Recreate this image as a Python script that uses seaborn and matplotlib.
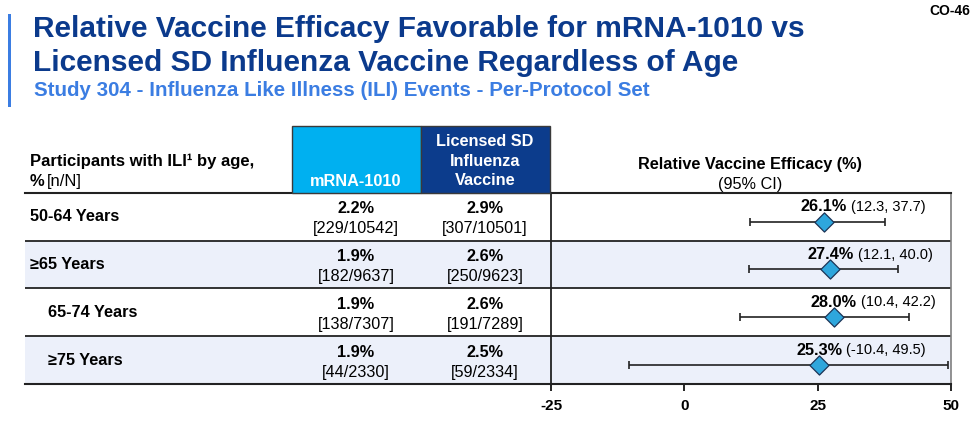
import matplotlib
matplotlib.use("Agg")
import matplotlib.pyplot as plt
import seaborn as sns
import pandas as pd
from matplotlib import font_manager
from matplotlib.patches import Rectangle

# data
age_groups = ["50-64 Years", "≥65 Years", "65-74 Years", "≥75 Years"]
indented = [False, False, True, True]
mrna_pct = ["2.2%", "1.9%", "1.9%", "1.9%"]
mrna_nN = ["[229/10542]", "[182/9637]", "[138/7307]", "[44/2330]"]
lic_pct = ["2.9%", "2.6%", "2.6%", "2.5%"]
lic_nN = ["[307/10501]", "[250/9623]", "[191/7289]", "[59/2334]"]
rve = [26.1, 27.4, 28.0, 25.3]
ci_low = [12.3, 12.1, 10.4, -10.4]
ci_high = [37.7, 40.0, 42.2, 49.5]
x_ticks = [-25, 0, 25, 50]

df = pd.DataFrame({"group": age_groups, "rve": rve, "lo": ci_low, "hi": ci_high})
df["row"] = range(len(df))
df["ypos"] = df["row"] + 0.1

sns.set_theme(style="white")
plt.rcParams["font.family"] = ["Liberation Sans", "DejaVu Sans"]
plt.rcParams["text.color"] = "black"
plt.rcParams["xtick.color"] = "black"
plt.rcParams["axes.labelcolor"] = "black"

names = {f.name for f in font_manager.fontManager.ttflist}
if "Liberation Sans Narrow" in names:
    head_font = ["Liberation Sans Narrow", "Liberation Sans", "DejaVu Sans"]
    title_size, sub_size = 24, 16.5
else:
    head_font = ["Liberation Sans", "DejaVu Sans"]
    title_size, sub_size = 21.5, 14.8

W, H = 976, 448
def fx(x):
    return x / W
def fy(y):
    return 1 - y / H

TITLE = "#0b3a8c"
SUB = "#3b7de2"
CYAN = "#00b0f0"
NAVY = "#0c3c8c"
SHADE = "#ecf0fa"
DIAMOND = "#2ea6dc"

fig = plt.figure(figsize=(9.76, 4.48), dpi=100)

# title block
fig.patches.append(Rectangle((fx(8), fy(107)), 3 / W, (107 - 14) / H,
                             transform=fig.transFigure, color=SUB, lw=0))
fig.text(fx(33), fy(29), "Relative Vaccine Efficacy Favorable for mRNA-1010 vs",
         fontsize=title_size, fontweight="bold", color=TITLE, va="center", family=head_font)
fig.text(fx(33), fy(63), "Licensed SD Influenza Vaccine Regardless of Age",
         fontsize=title_size, fontweight="bold", color=TITLE, va="center", family=head_font)
fig.text(fx(34), fy(91), "Study 304 - Influenza Like Illness (ILI) Events - Per-Protocol Set",
         fontsize=sub_size, fontweight="bold", color=SUB, va="center", family=head_font)
fig.text(fx(970), fy(11), "CO-46", fontsize=10, fontweight="bold", color="black",
         ha="right", va="center", family=head_font)

# table and forest axes share the row scale
top, bot = 193, 384
tab = fig.add_axes([fx(25), fy(bot), (551 - 25) / W, (bot - top) / H])
ax = fig.add_axes([fx(551), fy(bot), (951 - 551) / W, (bot - top) / H], sharey=tab)
ax.set_ylim(len(df) - 0.5, -0.5)
tab.set_xlim(25, 551)

for a in (tab, ax):
    for i in df["row"]:
        if i % 2 == 1:
            a.axhspan(i - 0.5, i + 0.5, color=SHADE, lw=0, zorder=0)
        if i < len(df) - 1:
            a.axhline(i + 0.5, color="#222222", lw=1.3, zorder=1)
    a.grid(False)

tab.set_xticks([])
tab.tick_params(left=False, labelleft=False)
for s in ("left", "right"):
    tab.spines[s].set_visible(False)
for s in ("top", "bottom"):
    tab.spines[s].set_color("#222222")
    tab.spines[s].set_linewidth(1.5)

for i, r in df.iterrows():
    x0 = 48 if indented[i] else 30
    tab.text(x0, i, r["group"], fontsize=11.7, fontweight="bold", va="center", ha="left")
    tab.text(356, i - 0.17, mrna_pct[i], fontsize=11.7, fontweight="bold", ha="center", va="center")
    tab.text(356, i + 0.25, mrna_nN[i], fontsize=11.7, ha="center", va="center")
    tab.text(485, i - 0.17, lic_pct[i], fontsize=11.7, fontweight="bold", ha="center", va="center")
    tab.text(485, i + 0.25, lic_nN[i], fontsize=11.7, ha="center", va="center")

# forest plot
ax.errorbar(df["rve"], df["ypos"], xerr=[df["rve"] - df["lo"], df["hi"] - df["rve"]],
            fmt="none", ecolor="#222222", elinewidth=1.2, capsize=3, capthick=1.2, zorder=2)
sns.scatterplot(data=df, x="rve", y="ypos", marker="D", s=95, color=DIAMOND,
                edgecolor="#1d3557", linewidth=0.9, zorder=3, ax=ax, legend=False)
for i, r in df.iterrows():
    t = ax.text(r["rve"], r["row"] - 0.21, f"{r['rve']:.1f}%", fontsize=11.7,
                fontweight="bold", ha="center", va="center")
    ax.annotate(f"({r['lo']:.1f}, {r['hi']:.1f})", xy=(1, 0.5), xycoords=t,
                xytext=(3, 0), textcoords="offset points", fontsize=10.5,
                ha="left", va="center")

ax.set_xlim(x_ticks[0], x_ticks[-1])
ax.set_xticks(x_ticks)
ax.set_xticklabels([str(v) for v in x_ticks], fontweight="bold", fontsize=11)
ax.tick_params(axis="x", bottom=True, direction="out", length=5, width=1.2, pad=6, colors="black")
ax.tick_params(axis="y", left=False, labelleft=False)
ax.set_xlabel("")
ax.set_ylabel("")
ax.spines["left"].set_color("#222222")
ax.spines["left"].set_linewidth(1.3)
ax.spines["bottom"].set_color("#222222")
ax.spines["bottom"].set_linewidth(1.5)
ax.spines["top"].set_color("#222222")
ax.spines["top"].set_linewidth(1.5)
ax.spines["right"].set_color("#7f7f7f")
ax.spines["right"].set_linewidth(1.2)

# column headers
fig.patches.append(Rectangle((fx(292), fy(top)), (421 - 292) / W, (top - 126) / H,
                             transform=fig.transFigure, facecolor=CYAN, edgecolor="#3a3a3a", lw=1))
fig.patches.append(Rectangle((fx(421), fy(top)), (550 - 421) / W, (top - 126) / H,
                             transform=fig.transFigure, facecolor=NAVY, edgecolor="#3a3a3a", lw=1))
fig.text(fx(356), fy(181), "mRNA-1010", fontsize=11.7, fontweight="bold", color="white",
         ha="center", va="center")
fig.text(fx(485), fy(161), "Licensed SD\nInfluenza\nVaccine", fontsize=11.7, fontweight="bold",
         color="white", ha="center", va="center", linespacing=1.4)
fig.text(fx(30), fy(161), "Participants with ILI¹ by age,", fontsize=12, fontweight="bold",
         ha="left", va="center")
fig.text(fx(30), fy(181), "%", fontsize=12, fontweight="bold", ha="left", va="center")
fig.text(fx(47), fy(181), "[n/N]", fontsize=12, ha="left", va="center")
fig.text(fx(750), fy(165), "Relative Vaccine Efficacy (%)", fontsize=11.7, fontweight="bold",
         ha="center", va="center")
fig.text(fx(750), fy(184), "(95% CI)", fontsize=11.7, ha="center", va="center")

fig.savefig("out.png", dpi=100)
